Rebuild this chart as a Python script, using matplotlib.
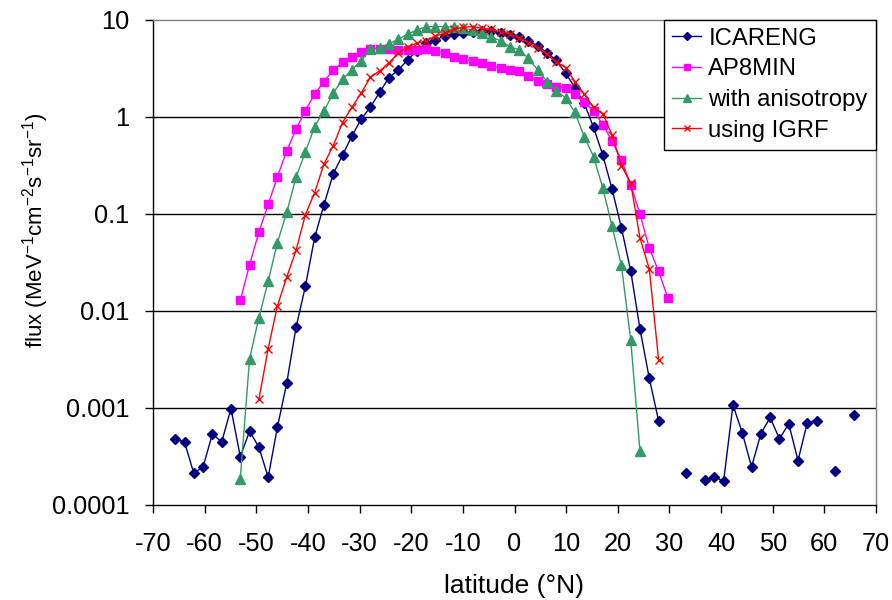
import numpy as np
import matplotlib
matplotlib.use("Agg")
import matplotlib.pyplot as plt
from matplotlib.ticker import NullLocator

plt.rcParams['font.family'] = ['Liberation Sans', 'DejaVu Sans']
plt.rcParams['mathtext.fontset'] = 'custom'
plt.rcParams['mathtext.rm'] = 'Liberation Sans'
plt.rcParams['mathtext.it'] = 'Liberation Sans'

nan = np.nan

latitude = [-65.7, -63.9, -62.1, -60.3, -58.5, -56.7, -54.9, -53.1, -51.3, -49.5,
            -47.7, -45.9, -44.1, -42.3, -40.5, -38.7, -36.9, -35.1, -33.3, -31.5,
            -29.7, -27.9, -26.1, -24.3, -22.5, -20.7, -18.9, -17.1, -15.3, -13.5,
            -11.7, -9.9, -8.1, -6.3, -4.5, -2.7, -0.9, 0.9, 2.7, 4.5,
            6.3, 8.1, 9.9, 11.7, 13.5, 15.3, 17.1, 18.9, 20.7, 22.5,
            24.3, 26.1, 27.9, 29.7, 31.5, 33.3, 35.1, 36.9, 38.7, 40.5,
            42.3, 44.1, 45.9, 47.7, 49.5, 51.3, 53.1, 54.9, 56.7, 58.5,
            60.3, 62.1, 63.9, 65.7]

icareng = [4.75e-4, 4.4e-4, 2.1e-4, 2.44e-4, 5.35e-4, 4.4e-4, 9.75e-4, 3.12e-4, 5.7e-4, 3.9e-4,
           1.91e-4, 6.3e-4, 1.79e-3, 6.7e-3, 0.0177, 0.0566, 0.123, 0.256, 0.40, 0.627,
           0.938, 1.25, 1.78, 2.52, 3.02, 3.83, 4.77, 5.77, 6.15, 6.76,
           7.03, 7.31, 7.48, 7.7, 7.62, 7.22, 6.92, 6.56, 6.01, 5.34,
           4.55, 3.80, 2.79, 1.99, 1.37, 0.776, 0.40, 0.178, 0.0712, 0.0257,
           6.45e-3, 2.0e-3, 7.3e-4, nan, nan, 2.1e-4, nan, 1.77e-4, 1.91e-4, 1.75e-4,
           1.06e-3, 5.5e-4, 2.44e-4, 5.35e-4, 7.9e-4, 4.75e-4, 6.8e-4, 2.84e-4, 7.0e-4, 7.3e-4,
           nan, 2.2e-4, nan, 8.45e-4]

ap8min = [nan] * 7 + [
    0.0127, 0.0296, 0.0643, 0.124, 0.240, 0.443, 0.740, 1.15, 1.70, 2.29,
    3.02, 3.62, 4.14, 4.63, 5.01, 5.0, 4.95, 4.9, 4.85, 4.9,
    4.95, 4.78, 4.49, 4.14, 3.92, 3.74, 3.52, 3.34, 3.17, 3.05,
    2.92, 2.62, 2.33, 2.15, 2.03, 1.98, 1.71, 1.41, 1.14, 0.826,
    0.557, 0.355, 0.198, 0.0986, 0.044, 0.0253, 0.0135] + [nan] * 20

anisotropy = [nan] * 7 + [
    1.84e-4, 3.19e-3, 8.4e-3, 0.020, 0.0502, 0.103, 0.237, 0.429, 0.787, 1.14,
    1.74, 2.42, 3.02, 3.77, 4.97, 5.13, 5.60, 6.26, 7.05, 7.80,
    8.44, 8.44, 8.44, 8.31, 8.11, 7.80, 7.32, 6.66, 6.01, 5.25,
    4.86, 3.98, 3.02, 2.29, 1.85, 1.56, 1.10, 0.621, 0.386, 0.183,
    0.0735, 0.0292, 5.0e-3, 3.54e-4] + [nan] * 23

igrf = [nan] * 9 + [
    1.21e-3, 4.04e-3, 0.0112, 0.0221, 0.0416, 0.097, 0.164, 0.323, 0.501, 0.865,
    1.24, 1.74, 2.54, 2.95, 3.59, 4.49, 5.25, 5.69, 6.05, 6.76,
    7.21, 7.93, 8.31, 8.44, 8.1, 7.93, 7.48, 7.05, 6.5, 5.77,
    5.05, 4.38, 3.67, 3.19, 2.29, 1.70, 1.24, 1.06, 0.647, 0.312,
    0.206, 0.0558, 0.0268, 3.11e-3] + [nan] * 21

series_names = ["ICARENG", "AP8MIN", "with anisotropy", "using IGRF"]
x_ticks = [-70, -60, -50, -40, -30, -20, -10, 0, 10, 20, 30, 40, 50, 60, 70]
y_ticks = [1e-4, 1e-3, 1e-2, 1e-1, 1, 10]
y_tick_labels = ["0.0001", "0.001", "0.01", "0.1", "1", "10"]

W, H = 892, 600
fig = plt.figure(figsize=(W / 100, H / 100), dpi=100)
left, right, top, bottom = 153, 876, 19.5, 504.5
ax = fig.add_axes([left / W, 1 - bottom / H, (right - left) / W, (bottom - top) / H])

ax.set_yscale('log')
ax.set_xlim(-70, 70)
ax.set_ylim(1e-4, 10)

for yv in y_ticks[1:-1]:
    ax.axhline(yv, color='black', lw=1.0, zorder=1)

lat = np.array(latitude)
ax.plot(lat, np.array(icareng), color='#000080', lw=1.0, marker='D', ms=5.5,
        mec='#000080', mfc='#000080', label=series_names[0], zorder=3)
ax.plot(lat, np.array(ap8min), color='#FF00FF', lw=1.0, marker='s', ms=6,
        mec='#FF00FF', mfc='#FF00FF', label=series_names[1], zorder=3)
ax.plot(lat, np.array(anisotropy), color='#339966', lw=1.0, marker='^', ms=6.5,
        mec='#339966', mfc='#339966', label=series_names[2], zorder=3)
ax.plot(lat, np.array(igrf), color='#FF0000', lw=1.0, marker='x', ms=6, mew=1.0,
        label=series_names[3], zorder=3)

ax.set_xticks(x_ticks)
ax.set_xticklabels([str(v) for v in x_ticks])
ax.set_yticks(y_ticks)
ax.set_yticklabels(y_tick_labels)
ax.yaxis.set_minor_locator(NullLocator())
ax.tick_params(axis='both', direction='out', length=5.8, width=1, color='black',
               labelsize=18.3)
ax.tick_params(axis='x', pad=14)
ax.tick_params(axis='y', pad=11)

for s in ['left', 'bottom']:
    ax.spines[s].set_color('black')
    ax.spines[s].set_linewidth(1.0)
for s in ['top', 'right']:
    ax.spines[s].set_color('#808080')
    ax.spines[s].set_linewidth(1.0)

ax.set_xlabel('latitude (°N)', fontsize=19, labelpad=13)
ax.set_ylabel('flux (MeV$^{-1}$cm$^{-2}$s$^{-1}$sr$^{-1}$)', fontsize=16)
ax.yaxis.set_label_coords((51 - left) / (right - left), (bottom - 230) / (bottom - top))

leg = ax.legend(loc='upper right', bbox_to_anchor=(1.0, 1.0), borderaxespad=0,
                frameon=True, fancybox=False, edgecolor='black', framealpha=1,
                fontsize=17.2, handlelength=1.2, labelspacing=0.36, borderpad=0.35,
                handletextpad=0.3, markerscale=0.8)
leg.get_frame().set_linewidth(1.0)
leg.set_zorder(5)

fig.savefig('out.png', dpi=100)
